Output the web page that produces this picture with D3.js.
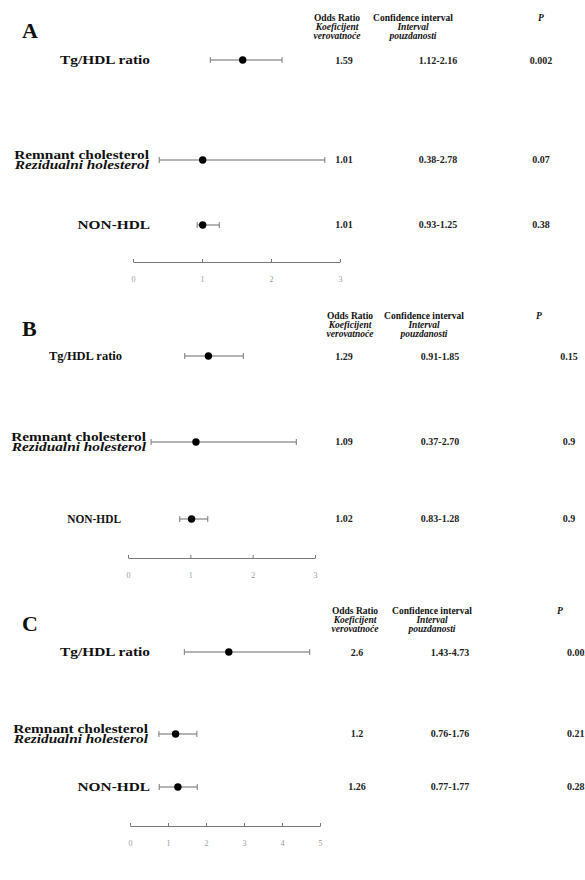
<!DOCTYPE html>
<html>
<head>
<meta charset="utf-8">
<script src="https://cdn.jsdelivr.net/npm/d3@7"></script>
<style>
  html, body { margin: 0; padding: 0; background: #fff; }
  svg { display: block; }
</style>
</head>
<body>
<svg id="chart" width="585" height="880" font-family="'Liberation Serif', 'DejaVu Serif', serif"></svg>
<script>
// Forest plots of odds ratios for three lipid indices, three models (A, B, C)
const panelLetters = ["A", "B", "C"];
const rowNames = ["Tg/HDL ratio", "Remnant cholesterol", "NON-HDL"];
const rowSubNames = ["", "Rezidualni holesterol", ""];

const oddsA = [1.59, 1.01, 1.01];
const ciLowA = [1.12, 0.38, 0.93];
const ciHighA = [2.16, 2.78, 1.25];
const pA = ["0.002", "0.07", "0.38"];

const oddsB = [1.29, 1.09, 1.02];
const ciLowB = [0.91, 0.37, 0.83];
const ciHighB = [1.85, 2.70, 1.28];
const pB = ["0.15", "0.9", "0.9"];

const oddsC = [2.6, 1.2, 1.26];
const ciLowC = [1.43, 0.76, 0.77];
const ciHighC = [4.73, 1.76, 1.77];
const pC = ["0.002", "0.21", "0.28"];

const ticksA = [0, 1, 2, 3];
const ticksB = [0, 1, 2, 3];
const ticksC = [0, 1, 2, 3, 4, 5];

// odds ratios are printed with the precision they were reported in
const oddsTextA = ["1.59", "1.01", "1.01"];
const oddsTextB = ["1.29", "1.09", "1.02"];
const oddsTextC = ["2.6", "1.2", "1.26"];
const fmtCi = (lo, hi) => lo.map((l, i) => l.toFixed(2) + "-" + hi[i].toFixed(2));

const panels = [
  { letter: panelLetters[0], odds: oddsA, lo: ciLowA, hi: ciHighA, p: pA, ticks: ticksA, oddsText: oddsTextA,
    rows: [60, 160, 225], axisY: 262, x0: 133, x1: 340,
    labelX: [150, 149, 150], labelSx: [1.28, 1.28, 1.28],
    headY: 21, orX: 337, ciX: 413, pX: 541, valOrX: 344, valCiX: 438, valPX: 541, pAnchor: "middle" },
  { letter: panelLetters[1], odds: oddsB, lo: ciLowB, hi: ciHighB, p: pB, ticks: ticksB, oddsText: oddsTextB,
    rows: [356, 442, 519], axisY: 558, x0: 128, x1: 315,
    labelX: [122, 146, 121], labelSx: [1.04, 1.28, 0.95],
    headY: 319, orX: 350, ciX: 424, pX: 539, valOrX: 344, valCiX: 440, valPX: 569, pAnchor: "middle" },
  { letter: panelLetters[2], odds: oddsC, lo: ciLowC, hi: ciHighC, p: pC, ticks: ticksC, oddsText: oddsTextC,
    rows: [652, 734, 787], axisY: 826, x0: 130, x1: 320,
    labelX: [150, 148, 150], labelSx: [1.28, 1.28, 1.28],
    headY: 614, orX: 355, ciX: 432, pX: 560, valOrX: 357, valCiX: 450, valPX: 567, pAnchor: "start" }
];

const svg = d3.select("#chart");

// row label, set wide; an optional second italic line sits right under it
function rowLabel(g, x, y, txt, sub, sx) {
  const t = g.append("text")
    .attr("transform", `translate(${x},${y}) scale(${sx},1)`)
    .attr("text-anchor", "end").attr("font-size", 12).attr("font-weight", "bold")
    .attr("fill", "#111");
  t.append("tspan").attr("x", 0).attr("dy", 0).text(txt);
  if (sub) {
    t.append("tspan").attr("x", 0).attr("dy", 10.5).attr("font-style", "italic").text(sub);
  }
}

panels.forEach(P => {
  const g = svg.append("g");
  const x = d3.scaleLinear().domain([0, d3.max(P.ticks)]).range([P.x0, P.x1]);

  // panel letter
  g.append("text")
    .attr("x", 22).attr("y", P.headY + 17)
    .attr("font-size", 22).attr("font-weight", "bold").attr("fill", "#111")
    .text(P.letter);

  // column headers, three tightly stacked lines
  const lh = 8.8;
  const head = g.append("g").attr("font-size", 9.5).attr("font-weight", "bold").attr("fill", "#111").attr("text-anchor", "middle");
  head.append("text").attr("x", P.orX).attr("y", P.headY).text("Odds Ratio");
  head.append("text").attr("x", P.orX).attr("y", P.headY + lh).attr("font-style", "italic").text("Koeficijent");
  head.append("text").attr("x", P.orX).attr("y", P.headY + 2 * lh).attr("font-style", "italic").text("verovatnoće");
  head.append("text").attr("x", P.ciX).attr("y", P.headY).text("Confidence interval");
  head.append("text").attr("x", P.ciX).attr("y", P.headY + lh).attr("font-style", "italic").text("Interval");
  head.append("text").attr("x", P.ciX).attr("y", P.headY + 2 * lh).attr("font-style", "italic").text("pouzdanosti");
  head.append("text").attr("x", P.pX).attr("y", P.headY).attr("font-style", "italic").text("P");

  const ciText = fmtCi(P.lo, P.hi);

  P.rows.forEach((ry, i) => {
    if (rowSubNames[i]) {
      rowLabel(g, P.labelX[i], ry - 1.5, rowNames[i], rowSubNames[i], P.labelSx[i]);
    } else {
      rowLabel(g, P.labelX[i], ry + 4, rowNames[i], "", P.labelSx[i]);
    }

    // confidence interval whisker with end caps
    g.append("line")
      .attr("x1", x(P.lo[i])).attr("x2", x(P.hi[i]))
      .attr("y1", ry).attr("y2", ry)
      .attr("stroke", "#b4b4b4").attr("stroke-width", 2);
    [P.lo[i], P.hi[i]].forEach(v => {
      g.append("line")
        .attr("x1", x(v)).attr("x2", x(v))
        .attr("y1", ry - 3).attr("y2", ry + 3)
        .attr("stroke", "#7a7a7a").attr("stroke-width", 1);
    });
    // point estimate
    g.append("circle").attr("cx", x(P.odds[i])).attr("cy", ry).attr("r", 3.7).attr("fill", "#000");

    // value columns
    const vals = g.append("g").attr("font-size", 10).attr("font-weight", "bold").attr("fill", "#222").attr("text-anchor", "middle");
    const vy = ry + (i === 0 ? 4 : 3);
    vals.append("text").attr("x", P.valOrX).attr("y", vy).text(P.oddsText[i]);
    vals.append("text").attr("x", P.valCiX).attr("y", vy).text(ciText[i]);
    vals.append("text").attr("x", P.valPX).attr("y", vy).attr("text-anchor", P.pAnchor).text(P.p[i]);
  });

  // x axis
  const axis = d3.axisBottom(x).tickValues(P.ticks).tickFormat(d3.format("d"))
    .tickSizeInner(-3).tickSizeOuter(0).tickPadding(14);
  const ag = g.append("g").attr("transform", `translate(0,${P.axisY})`).call(axis);
  ag.select(".domain").attr("stroke", "#777").attr("stroke-width", 1.2);
  ag.selectAll(".tick line").attr("stroke", "#777");
  ag.selectAll(".tick text").attr("fill", "#999").attr("font-size", 8)
    .attr("font-family", "'Liberation Serif', serif");
});
</script>
</body>
</html>
